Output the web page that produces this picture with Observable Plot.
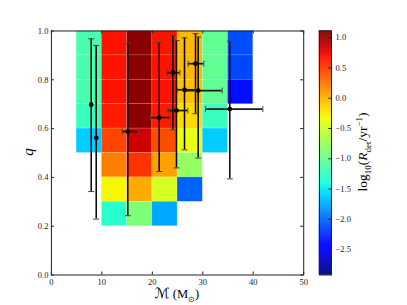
<!DOCTYPE html>
<html><head><meta charset="utf-8">
<script src="https://cdn.jsdelivr.net/npm/d3@7"></script>
<script src="https://cdn.jsdelivr.net/npm/@observablehq/plot@0.6"></script>
<style>
body{margin:0;background:#fff}
#wrap{position:relative;width:407px;height:305px;overflow:hidden;font-family:"Liberation Serif",serif;background:#fff}
#wrap svg{position:absolute;left:0;top:0}
.lbl{position:absolute;white-space:nowrap;color:#000;line-height:1}
</style></head><body><div id="wrap"></div>
<script>
// heat-map cells: left edge of chirp-mass bin, lower edge of q bin, log10 rate
const cellMass = [5,5,5,5,5, 10,10,10,10,10,10,10,10, 15,15,15,15,15,15,15,15, 20,20,20,20,20,20,20,20, 25,25,25,25,25,25,25, 30,30,30,30,30, 35,35,35];
const cellQ    = [0.9,0.8,0.7,0.6,0.5, 0.9,0.8,0.7,0.6,0.5,0.4,0.3,0.2, 0.9,0.8,0.7,0.6,0.5,0.4,0.3,0.2, 0.9,0.8,0.7,0.6,0.5,0.4,0.3,0.2, 0.9,0.8,0.7,0.6,0.5,0.4,0.3, 0.9,0.8,0.7,0.6,0.5, 0.9,0.8,0.7];
const cellRate = [-1.15,-1.15,-1.15,-1.23,-1.61, 0.67,0.67,0.67,0.63,0.45,0.20,-0.31,-1.31, 1.07,1.07,1.07,1.07,0.83,0.53,0.02,-0.89, 0.67,0.67,0.67,0.63,0.42,0.06,-0.46,-1.75, -0.04,-0.04,-0.07,-0.18,-0.37,-0.78,-2.03, -1.03,-1.03,-1.03,-1.23,-1.61, -2.11,-2.13,-2.36];

// events with error bars
const ptMass  = [7.89, 8.88, 15.14, 21.36, 24.06, 24.79, 26.38, 29.09, 28.56, 35.36];
const ptMlo   = [7.89, 8.88, 14.03, 19.64, 22.95, 23.15, 24.93, 26.5, 27.11, 30.54];
const ptMhi   = [7.89, 8.88, 17.2, 23.46, 25.45, 27.03, 28.5, 33.85, 30.2, 41.9];
const ptQ     = [0.698, 0.562, 0.588, 0.645, 0.829, 0.674, 0.759, 0.756, 0.866, 0.680];
const ptQlo   = [0.342, 0.229, 0.243, 0.424, 0.595, 0.439, 0.513, 0.479, 0.661, 0.394];
const ptQhi   = [0.968, 0.941, 0.948, 0.952, 0.982, 0.961, 0.972, 0.975, 0.989, 0.958];

const xTicks = [0,10,20,30,40,50];
const yTicks = [0,0.2,0.4,0.6,0.8,1.0];
const cbTicks = [1.0,0.5,0.0,-0.5,-1.0,-1.5,-2.0,-2.5];
const cbDomain = [-2.92, 1.11];

function seg(pts, t){
  for (let i=1;i<pts.length;i++){
    if (t <= pts[i][0]) { const [x0,y0]=pts[i-1], [x1,y1]=pts[i]; return y0 + (y1-y0)*(t-x0)/(x1-x0); }
  }
  return pts[pts.length-1][1];
}
const R=[[0,0],[0.35,0],[0.66,1],[0.89,1],[1,0.5]];
const G=[[0,0],[0.125,0],[0.375,1],[0.64,1],[0.91,0],[1,0]];
const B=[[0,0.5],[0.11,1],[0.34,1],[0.65,0],[1,0]];
function jet(t){ t=Math.max(0,Math.min(1,t)); return d3.rgb(255*seg(R,t),255*seg(G,t),255*seg(B,t)).toString(); }

const cells = cellMass.map((m,i)=>({m, q:cellQ[i], r:cellRate[i]}));
const pts = ptMass.map((m,i)=>({m, q:ptQ[i], mlo:ptMlo[i], mhi:ptMhi[i], qlo:ptQlo[i], qhi:ptQhi[i]}));
const ptsX = pts.filter(d=>d.mhi>d.mlo);

const hcap = {draw(ctx,size){const r=Math.sqrt(size/Math.PI); ctx.moveTo(-r,0); ctx.lineTo(r,0);}};
const vcap = {draw(ctx,size){const r=Math.sqrt(size/Math.PI); ctx.moveTo(0,-r); ctx.lineTo(0,r);}};

const colorScale = {type:"linear", domain:cbDomain, interpolate: jet};
const baseStyle = {fontFamily:"'Liberation Serif', serif", fontSize:"8.5px", color:"#222", background:"none", overflow:"visible"};

const main = Plot.plot({
  width:407, height:305, marginLeft:50.9, marginRight:103.8, marginTop:30.5, marginBottom:30.5,
  x:{domain:[0,50]}, y:{domain:[0,1]}, color:colorScale, style:baseStyle,
  marks:[
    Plot.rect(cells, {x1:"m", x2:d=>d.m+5, y1:"q", y2:d=>d.q+0.1, fill:"r", stroke:"white", strokeOpacity:0.18, strokeWidth:0.7}),
    Plot.ruleX(pts, {x:"m", y1:"qlo", y2:"qhi", stroke:"black", strokeWidth:1.5}),
    Plot.ruleY(ptsX, {y:"q", x1:"mlo", x2:"mhi", stroke:"#1a1a1a", strokeWidth:1.7}),
    Plot.dot(pts, {x:"m", y:"qlo", symbol:hcap, r:3, stroke:"#444", strokeWidth:1}),
    Plot.dot(pts, {x:"m", y:"qhi", symbol:hcap, r:3, stroke:"#444", strokeWidth:1}),
    Plot.dot(ptsX, {x:"mlo", y:"q", symbol:vcap, r:3, stroke:"#444", strokeWidth:1}),
    Plot.dot(ptsX, {x:"mhi", y:"q", symbol:vcap, r:3, stroke:"#444", strokeWidth:1}),
    Plot.dot(pts, {x:"m", y:"q", r:2.4, fill:"black"}),
    Plot.ruleX(xTicks, {x:d=>d, y1:0, y2:3/244, stroke:"#222"}),
    Plot.ruleX(xTicks, {x:d=>d, y1:1-3/244, y2:1, stroke:"#222"}),
    Plot.ruleY(yTicks, {y:d=>d, x1:0, x2:3/5.046, stroke:"#222"}),
    Plot.ruleY(yTicks, {y:d=>d, x1:50-3/5.046, x2:50, stroke:"#222"}),
    Plot.frame({stroke:"#222", strokeWidth:1}),
    Plot.axisX({ticks:xTicks, tickSize:0, tickPadding:4, tickFormat:d3.format("d"), label:null}),
    Plot.axisY({ticks:yTicks, tickSize:0, tickPadding:3, tickFormat:d3.format(".1f"), label:null})
  ]
});

const n = 244, step = (cbDomain[1]-cbDomain[0])/n;
const cbSlices = d3.range(n).map(i=>({a:cbDomain[0]+i*step, b:cbDomain[0]+(i+1)*step, v:cbDomain[0]+(i+0.5)*step}));

const bar = Plot.plot({
  width:407, height:305, marginLeft:319, marginRight:76, marginTop:30.5, marginBottom:30.5,
  x:{domain:[0,1], axis:null}, y:{domain:cbDomain}, color:colorScale, style:baseStyle,
  marks:[
    Plot.rect(cbSlices, {x1:0, x2:1, y1:"a", y2:"b", fill:"v", stroke:"v", strokeWidth:0.5}),
    Plot.ruleY(cbTicks, {y:d=>d, x1:0.77, x2:1, stroke:"#222"}),
    Plot.frame({stroke:"#222", strokeWidth:1}),
    Plot.axisY({anchor:"right", ticks:cbTicks, tickSize:0, tickPadding:4, tickFormat:d3.format(".1f"), label:null})
  ]
});

const wrap = document.getElementById("wrap");
wrap.appendChild(main);
wrap.appendChild(bar);

function addLabel(html, x, y, size, rotate){
  const el = document.createElement("div");
  el.className = "lbl";
  el.innerHTML = html;
  el.style.left = x+"px"; el.style.top = y+"px"; el.style.fontSize = size+"px";
  el.style.transform = "translate(-50%,-50%)" + (rotate ? " rotate(-90deg)" : "");
  wrap.appendChild(el);
}
addLabel("<i>q</i>", 28, 152, 15, true);
addLabel("<span style='font-family:\"DejaVu Sans\";font-size:14px'>ℳ</span> (M<sub style='font-size:8px'>⊙</sub>)", 177, 295, 12.5, false);
addLabel("log<sub style='font-size:9px'>10</sub>(<i>R</i><sub style='font-size:9px'>det</sub>/yr<sup style='font-size:9px'>−1</sup>)", 364, 152, 13.5, true);
</script></body></html>
